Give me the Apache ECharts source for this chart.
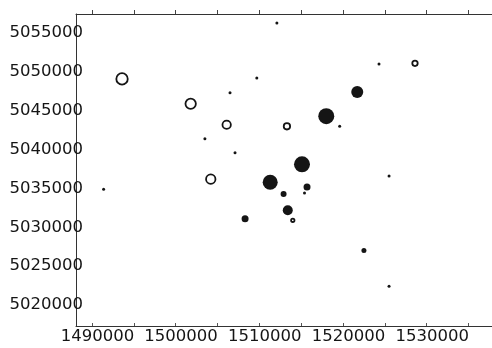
<!DOCTYPE html>
<html>
<head>
    <meta charset="utf-8">
    <title>survey stations</title>
    <script src="https://cdn.jsdelivr.net/npm/echarts@6/dist/echarts.min.js"></script>
</head>
<body style="margin:0; background:#fff;">
    <div id="chartmain" style="width:492px; height:348px;"></div>
    <script type="text/javascript">
        // station coordinates [easting, northing, magnitude]
        var filledStations = [
            [1508300, 5031100, 7],
            [1521700, 5047400, 12],
            [1518000, 5044300, 16],
            [1515100, 5038100, 16],
            [1511300, 5035800, 15],
            [1515700, 5035200, 7],
            [1512900, 5034300, 6],
            [1513400, 5032200, 10],
            [1522500, 5027000, 5]
        ];
        // very small values, drawn as dots
        var dotStations = [
            [1506500, 5047300, 3],
            [1503500, 5041400, 3],
            [1507100, 5039600, 3],
            [1491400, 5034900, 3],
            [1512100, 5056300, 3],
            [1509700, 5049200, 3],
            [1519600, 5043000, 3],
            [1524300, 5051000, 3],
            [1515400, 5034400, 3],
            [1525500, 5022400, 3],
            [1525500, 5036600, 3]
        ];
        var openStations = [
            [1493600, 5049100, 13],
            [1501800, 5045900, 12],
            [1506100, 5043200, 10],
            [1504200, 5036200, 11],
            [1513300, 5043000, 8],
            [1528600, 5051100, 7],
            [1514000, 5030900, 5]
        ];
        var xLabels = [1490000, 1500000, 1510000, 1520000, 1530000];
        var xTicks = [1490000, 1495000, 1500000, 1505000, 1510000, 1515000, 1520000, 1525000, 1530000, 1535000];
        var yLabels = [5020000, 5025000, 5030000, 5035000, 5040000, 5045000, 5050000, 5055000];

        var ink = '#151515';
        var labelFont = { fontFamily: 'DejaVu Sans', fontSize: 16.5, color: '#151515' };

        var option = {
            animation: false,
            backgroundColor: '#fff',
            grid: { left: 76, top: 14, right: 0, bottom: 22 },
            xAxis: [
                {
                    type: 'value', min: 1488100, max: 1537800,
                    splitLine: { show: false },
                    axisLine: { lineStyle: { color: '#333', width: 1 } },
                    axisTick: { inside: true, length: 3, customValues: xTicks, lineStyle: { color: '#555' } },
                    axisLabel: Object.assign({
                        margin: 2.5, padding: [0, 0, 0, 11], customValues: xLabels,
                        formatter: function (v) { return String(v); }
                    }, labelFont)
                },
                {
                    type: 'value', position: 'top', min: 1488100, max: 1537800,
                    splitLine: { show: false },
                    axisLine: { show: true, lineStyle: { color: '#333', width: 1 } },
                    axisTick: { length: 4, customValues: xTicks, lineStyle: { color: '#444' } },
                    axisLabel: { show: false }
                }
            ],
            yAxis: {
                type: 'value', min: 5017300, max: 5057450,
                splitLine: { show: false },
                axisLine: { show: true, lineStyle: { color: '#333', width: 1 } },
                axisTick: { show: false },
                axisLabel: Object.assign({
                    margin: -7, customValues: yLabels,
                    formatter: function (v) { return String(v); }
                }, labelFont)
            },
            series: [
                {
                    type: 'scatter', data: openStations,
                    symbolSize: function (d) { return d[2] - 1.6; },
                    itemStyle: { color: '#fff', borderColor: ink, borderWidth: 1.8, opacity: 1 },
                    z: 2
                },
                {
                    type: 'scatter', data: filledStations,
                    symbolSize: function (d) { return d[2]; },
                    itemStyle: { color: ink, opacity: 1 },
                    z: 3
                },
                {
                    type: 'scatter', data: dotStations,
                    symbolSize: function (d) { return d[2]; },
                    itemStyle: { color: ink, opacity: 1 },
                    z: 3
                }
            ]
        };

        var myChart = echarts.init(document.getElementById('chartmain'));
        myChart.setOption(option);
    </script>
</body>
</html>
